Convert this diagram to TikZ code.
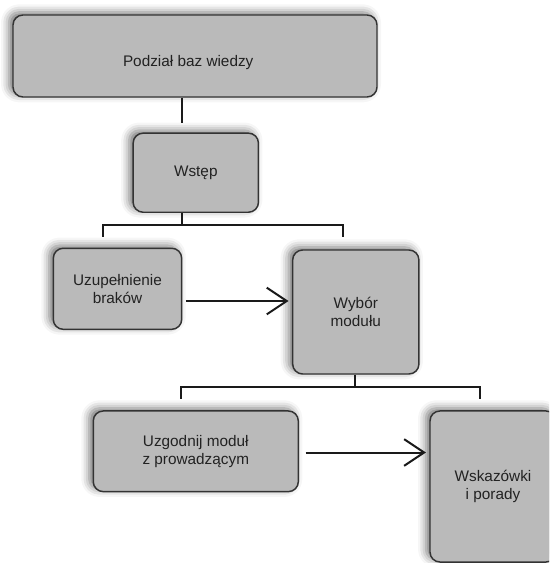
\documentclass[tikz,border=0pt]{standalone}
\usepackage{fontspec}
\setmainfont{Liberation Sans}
\usetikzlibrary{arrows.meta,positioning,calc,shadows.blur}
\definecolor{boxFill}{HTML}{BABABA}
\definecolor{boxLine}{HTML}{333333}
\definecolor{ink}{HTML}{222222}
\definecolor{linkC}{HTML}{1A1A1A}
\tikzset{
  fbox/.style={draw=boxLine,fill=boxFill,line width=1.1pt,rounded corners=7.5pt,
    inner sep=0pt,align=center,text=ink,font=\fontsize{11.5}{13.2}\selectfont,
    blur shadow={shadow xshift=-3pt,shadow yshift=2pt,shadow blur radius=6pt,shadow opacity=55}},
  link/.style={draw=linkC,line width=1.5pt},
  arr/.style={draw=linkC,line width=1.5pt,-{Straight Barb[length=15pt,width=20pt,line width=1.5pt]},
    shorten <=2.5pt,shorten >=2.5pt}}
\begin{document}
\begin{tikzpicture}[x=0.75pt,y=-0.75pt]
\useasboundingbox (0,0) rectangle (549,563);
\clip (0,0) rectangle (549,563);
\node[fbox,minimum width=273pt,minimum height=61.5pt] (podzial) at (195,56)
  {\raisebox{-8pt}[0pt][0pt]{\makebox[0pt]{\hspace*{-10.2pt}Podział baz wiedzy}}};
\node[fbox,minimum width=94pt,minimum height=59.3pt] (wstep) at (195.8,172.7) {Wstęp};
\node[fbox,minimum width=96.3pt,minimum height=60.8pt] (uzup) at (117.5,288.8) {Uzupełnienie\\braków};
\node[fbox,minimum width=94.7pt,minimum height=93pt] (wybor) at (355.8,312) {Wybór\\modułu};
\node[fbox,minimum width=153.8pt,minimum height=60.5pt] (uzgod) at (195.8,451.3) {Uzgodnij moduł\\z prowadzącym};
\node[fbox,minimum width=94.5pt,minimum height=113.3pt] (wskaz) at (493,486.5) {Wskazówki\\i porady};
\coordinate (t1) at (181.5,123);
\coordinate (b1) at (181.5,224.5);
\coordinate (l1) at (103.3,236.7);
\coordinate (r1) at (342.7,236.7);
\coordinate (b2) at (355,386.5);
\coordinate (l2) at (181,398.5);
\coordinate (r2) at (480,399);
\coordinate (a1) at (0,301);
\coordinate (a2) at (0,452.5);
\draw[link] (podzial.south -| t1) -- (t1);
\draw[link] (wstep.south -| b1) -- (b1);
\draw[link] (l1) |- (b1) -| (r1);
\draw[link] (wybor.south -| b2) -- (b2);
\draw[link] (l2) |- (b2) -| (r2);
\draw[arr] (uzup.east |- a1) -- (wybor.west |- a1);
\draw[arr,shorten <=5pt] (uzgod.east |- a2) -- (wskaz.west |- a2);
\end{tikzpicture}
\end{document}
